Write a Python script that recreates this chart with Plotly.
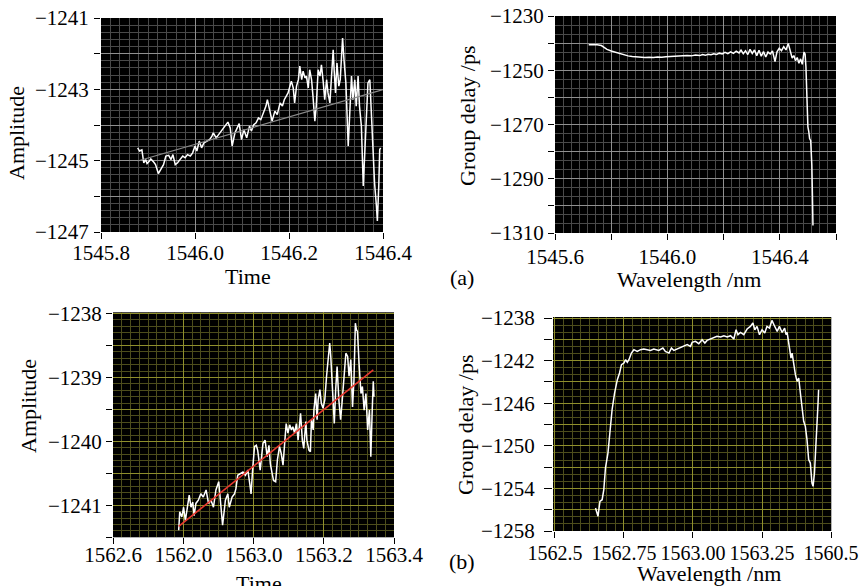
import plotly.graph_objects as go

# ---------------- data ----------------
# (a) left: amplitude vs time + linear fit
p1_x = [1545.878, 1545.882, 1545.887, 1545.891, 1545.895, 1545.898, 1545.903, 1545.906, 1545.912, 1545.916,
        1545.922, 1545.927, 1545.933, 1545.938, 1545.944, 1545.949, 1545.953, 1545.958, 1545.963, 1545.968,
        1545.974, 1545.979, 1545.984, 1545.990, 1545.995, 1546.000, 1546.004, 1546.009, 1546.014, 1546.019,
        1546.025, 1546.031, 1546.036, 1546.039, 1546.045, 1546.050, 1546.055, 1546.060, 1546.066, 1546.070,
        1546.075, 1546.079, 1546.085, 1546.090, 1546.094, 1546.099, 1546.104, 1546.110, 1546.116, 1546.120,
        1546.125, 1546.130, 1546.135, 1546.140, 1546.145, 1546.151, 1546.154, 1546.159, 1546.164, 1546.170,
        1546.175, 1546.181, 1546.186, 1546.190, 1546.195, 1546.198, 1546.202, 1546.205, 1546.209, 1546.212,
        1546.216, 1546.220, 1546.223, 1546.227, 1546.230, 1546.234, 1546.237, 1546.241, 1546.244, 1546.248,
        1546.251, 1546.255, 1546.258, 1546.262, 1546.266, 1546.269, 1546.273, 1546.276, 1546.280, 1546.283,
        1546.287, 1546.290, 1546.294, 1546.296, 1546.299, 1546.302, 1546.306, 1546.309, 1546.314, 1546.317,
        1546.321, 1546.326, 1546.329, 1546.333, 1546.336, 1546.340, 1546.343, 1546.347, 1546.350, 1546.354,
        1546.358, 1546.361, 1546.365, 1546.368, 1546.372, 1546.375, 1546.379, 1546.382, 1546.386, 1546.388,
        1546.391, 1546.393, 1546.395]
p1_y = [-1244.64, -1244.73, -1244.70, -1245.06, -1244.97, -1245.08, -1245.01, -1244.95, -1245.04, -1245.11,
        -1245.36, -1245.26, -1245.11, -1244.87, -1244.85, -1244.97, -1244.83, -1245.11, -1245.06, -1244.97,
        -1244.87, -1244.92, -1244.83, -1244.87, -1244.78, -1244.59, -1244.73, -1244.45, -1244.64, -1244.50,
        -1244.45, -1244.41, -1244.31, -1244.22, -1244.36, -1244.27, -1244.17, -1244.08, -1243.99, -1243.92,
        -1244.08, -1244.59, -1244.22, -1244.08, -1243.96, -1244.41, -1244.13, -1244.36, -1244.03, -1244.17,
        -1243.99, -1243.94, -1243.80, -1243.85, -1243.66, -1243.47, -1243.29, -1243.57, -1243.89, -1243.61,
        -1243.71, -1243.38, -1243.47, -1243.29, -1243.19, -1243.10, -1242.91, -1242.77, -1242.96, -1243.38,
        -1242.91, -1242.73, -1242.35, -1242.73, -1242.49, -1242.68, -1242.63, -1242.96, -1242.45, -1242.73,
        -1243.19, -1243.89, -1243.47, -1242.45, -1242.63, -1242.31, -1242.82, -1243.29, -1242.73, -1243.10,
        -1243.38, -1242.63, -1241.89, -1242.45, -1243.10, -1242.26, -1242.91, -1242.73, -1241.56, -1242.17,
        -1242.82, -1244.59, -1243.66, -1242.63, -1243.29, -1242.73, -1243.47, -1242.63, -1243.47, -1244.03,
        -1245.71, -1244.69, -1243.47, -1242.82, -1242.73, -1243.75, -1244.78, -1245.62, -1246.27, -1246.69,
        -1245.71, -1244.69, -1244.64]
p1_fit_x = [1545.878, 1546.400]
p1_fit_y = [-1245.01, -1243.01]

# (a) right: group delay vs wavelength
p2_x = [1545.720, 1545.735, 1545.750, 1545.765, 1545.775, 1545.785, 1545.800, 1545.815, 1545.830, 1545.845,
        1545.860, 1545.875, 1545.890, 1545.905, 1545.920, 1545.935, 1545.950, 1545.965, 1545.980, 1545.995,
        1546.010, 1546.025, 1546.040, 1546.055, 1546.070, 1546.085, 1546.100, 1546.115, 1546.125, 1546.135,
        1546.145, 1546.155, 1546.165, 1546.175, 1546.185, 1546.195, 1546.205, 1546.215, 1546.225, 1546.235,
        1546.245, 1546.255, 1546.262, 1546.270, 1546.278, 1546.286, 1546.294, 1546.302, 1546.310, 1546.318,
        1546.326, 1546.334, 1546.342, 1546.350, 1546.358, 1546.366, 1546.374, 1546.383, 1546.390, 1546.398,
        1546.406, 1546.414, 1546.422, 1546.430, 1546.437, 1546.444, 1546.450, 1546.456, 1546.462, 1546.468,
        1546.474, 1546.480, 1546.486, 1546.490, 1546.493, 1546.495, 1546.500, 1546.503, 1546.506, 1546.510,
        1546.512, 1546.514, 1546.516, 1546.518]
p2_y = [-1240.6, -1240.5, -1240.6, -1240.9, -1241.6, -1242.3, -1242.9, -1243.4, -1243.9, -1244.3,
        -1244.7, -1244.9, -1245.1, -1245.2, -1245.3, -1245.2, -1245.3, -1245.1, -1245.2, -1245.0,
        -1244.9, -1244.9, -1244.7, -1244.8, -1244.6, -1244.7, -1244.4, -1244.6, -1244.2, -1244.5,
        -1244.1, -1244.3, -1243.9, -1244.2, -1243.7, -1244.0, -1243.4, -1243.9, -1243.2, -1243.8,
        -1243.0, -1243.6, -1242.6, -1243.9, -1242.8, -1244.2, -1242.3, -1243.8, -1242.5, -1244.6,
        -1242.6, -1244.8, -1243.1, -1245.1, -1243.3, -1244.0, -1242.9, -1246.8, -1243.2, -1241.9,
        -1242.8, -1241.3, -1242.5, -1240.1, -1243.0, -1245.5, -1244.6, -1246.5, -1245.3, -1247.4,
        -1245.8, -1247.8, -1243.3, -1244.0, -1248.7, -1257.9, -1270.9, -1272.5, -1275.2, -1276.0,
        -1278.9, -1285.0, -1295.5, -1307.2]

# (b) left: amplitude vs time + linear fit
p3_x = [1562.787, 1562.790, 1562.796, 1562.801, 1562.806, 1562.810, 1562.817, 1562.822, 1562.827, 1562.831,
        1562.836, 1562.843, 1562.850, 1562.857, 1562.865, 1562.872, 1562.879, 1562.886, 1562.893, 1562.901,
        1562.908, 1562.912, 1562.920, 1562.927, 1562.931, 1562.939, 1562.946, 1562.950, 1562.955, 1562.962,
        1562.970, 1562.977, 1562.984, 1562.990, 1562.993, 1562.998, 1563.003, 1563.008, 1563.012, 1563.019,
        1563.027, 1563.033, 1563.039, 1563.044, 1563.048, 1563.053, 1563.057, 1563.063, 1563.068, 1563.074,
        1563.079, 1563.084, 1563.089, 1563.093, 1563.098, 1563.103, 1563.108, 1563.112, 1563.117, 1563.122,
        1563.127, 1563.131, 1563.134, 1563.139, 1563.143, 1563.149, 1563.152, 1563.158, 1563.162, 1563.165,
        1563.170, 1563.172, 1563.177, 1563.181, 1563.184, 1563.189, 1563.193, 1563.198, 1563.203, 1563.208,
        1563.212, 1563.217, 1563.220, 1563.225, 1563.230, 1563.234, 1563.238, 1563.243, 1563.248, 1563.252,
        1563.257, 1563.263, 1563.268, 1563.272, 1563.277, 1563.282, 1563.286, 1563.290, 1563.293, 1563.296,
        1563.301, 1563.306, 1563.310, 1563.315, 1563.320, 1563.325, 1563.330, 1563.334, 1563.338, 1563.341,
        1563.343]
p3_y = [-1241.39, -1241.10, -1241.18, -1241.03, -1241.24, -1241.08, -1240.84, -1241.03, -1240.95, -1241.16,
        -1240.97, -1240.92, -1240.82, -1240.87, -1240.76, -1240.97, -1240.92, -1241.03, -1240.76, -1240.63,
        -1241.03, -1241.31, -1240.92, -1240.82, -1241.03, -1240.87, -1240.82, -1240.74, -1240.53, -1240.50,
        -1240.48, -1240.53, -1240.45, -1240.69, -1240.82, -1240.40, -1240.08, -1240.06, -1240.14, -1240.45,
        -1240.03, -1239.98, -1240.24, -1240.06, -1240.35, -1240.50, -1240.61, -1240.63, -1240.29, -1240.08,
        -1240.19, -1240.37, -1239.93, -1239.72, -1239.87, -1239.74, -1239.82, -1239.77, -1239.87, -1239.72,
        -1239.98, -1239.72, -1239.56, -1239.98, -1240.11, -1239.69, -1239.98, -1240.14, -1240.16, -1239.66,
        -1239.82, -1239.51, -1239.25, -1239.66, -1239.35, -1239.19, -1239.40, -1239.48, -1239.35, -1238.98,
        -1238.72, -1238.46, -1238.67, -1239.25, -1239.72, -1239.19, -1238.83, -1239.35, -1239.66, -1239.40,
        -1238.98, -1238.62, -1238.67, -1238.98, -1238.72, -1239.46, -1239.04, -1238.15, -1238.25, -1238.28,
        -1238.83, -1239.25, -1239.14, -1239.51, -1239.25, -1239.82, -1239.51, -1240.24, -1239.51, -1239.06,
        -1239.30]
p3_fit_x = [1562.787, 1563.341]
p3_fit_y = [-1241.33, -1238.88]

# (b) right: group delay vs wavelength
p4_x = [1562.647, 1562.656, 1562.663, 1562.671, 1562.677, 1562.683, 1562.692, 1562.699, 1562.707, 1562.716,
        1562.726, 1562.734, 1562.741, 1562.750, 1562.756, 1562.762, 1562.768, 1562.777, 1562.786,
        1562.798, 1562.810, 1562.822, 1562.834, 1562.846, 1562.858, 1562.876, 1562.891, 1562.900, 1562.913,
        1562.922, 1562.931, 1562.943, 1562.955, 1562.967, 1562.979, 1562.991, 1562.997, 1563.009, 1563.021,
        1563.033, 1563.043, 1563.051, 1563.063, 1563.075, 1563.087, 1563.100, 1563.112, 1563.124, 1563.136,
        1563.148, 1563.156, 1563.163, 1563.172, 1563.184, 1563.196, 1563.208, 1563.217, 1563.224, 1563.232,
        1563.241, 1563.250, 1563.260, 1563.268, 1563.277, 1563.286, 1563.295, 1563.305, 1563.313, 1563.323,
        1563.332, 1563.337, 1563.341, 1563.347, 1563.350, 1563.355, 1563.359, 1563.365, 1563.371, 1563.377,
        1563.383, 1563.389, 1563.395, 1563.401, 1563.407, 1563.413, 1563.419, 1563.425, 1563.431, 1563.435,
        1563.440, 1563.446, 1563.451, 1563.453, 1563.455]
p4_y = [-1255.84, -1256.62, -1255.21, -1255.06, -1254.12, -1252.08, -1250.68, -1248.80, -1246.61, -1245.04,
        -1243.79, -1243.16, -1242.38, -1242.23, -1241.91, -1242.16, -1241.91, -1241.29, -1240.97,
        -1241.13, -1240.97, -1240.91, -1240.97, -1241.04, -1240.91, -1241.04, -1240.82, -1241.13, -1241.29,
        -1240.82, -1241.04, -1240.91, -1240.72, -1240.66, -1240.50, -1240.66, -1240.28, -1240.19, -1240.41,
        -1240.03, -1240.35, -1240.10, -1239.97, -1239.88, -1239.72, -1239.78, -1239.66, -1239.78, -1239.66,
        -1239.97, -1239.10, -1239.56, -1239.35, -1239.56, -1239.03, -1238.78, -1238.47, -1239.10, -1238.78,
        -1239.56, -1239.10, -1239.41, -1238.78, -1238.94, -1238.22, -1238.72, -1239.25, -1238.78, -1239.35,
        -1238.94, -1239.56, -1239.35, -1240.50, -1241.29, -1241.76, -1241.29, -1242.38, -1243.32, -1243.95,
        -1243.63, -1245.04, -1246.61, -1247.70, -1248.17, -1249.42, -1251.30, -1251.62, -1253.49, -1253.81,
        -1252.55, -1250.05, -1247.55, -1245.98, -1244.73]

# tick values / labels
p1_xticks = [1545.8, 1546.0, 1546.2, 1546.4]
p1_xlabels = ["1545.8", "1546.0", "1546.2", "1546.4"]
p1_yticks = [-1247, -1246, -1245, -1244, -1243, -1242, -1241]
p1_ylabels = ["\u22121247", "", "\u22121245", "", "\u22121243", "", "\u22121241"]

p2_xticks = [1545.6, 1545.8, 1546.0, 1546.2, 1546.4, 1546.6]
p2_xlabels = ["1545.6", "", "1546.0", "", "1546.4", ""]
p2_yticks = [-1310, -1300, -1290, -1280, -1270, -1260, -1250, -1240, -1230]
p2_ylabels = ["\u22121310", "", "\u22121290", "", "\u22121270", "", "\u22121250", "", "\u22121230"]

p3_xticks = [1562.6, 1562.8, 1563.0, 1563.2, 1563.4]
p3_xlabels = ["1562.6", "1562.0", "1563.0", "1563.2", "1563.4"]
p3_yticks = [-1241.5, -1241.0, -1240.5, -1240.0, -1239.5, -1239.0, -1238.5, -1238.0]
p3_ylabels = ["", "\u22121241", "", "\u22121240", "", "\u22121239", "", "\u22121238"]

p4_xticks = [1562.5, 1562.75, 1563.0, 1563.25, 1563.5]
p4_xlabels = ["1562.5", "1562.75", "1563.00", "1563.25", "1560.5"]
p4_yticks = [-1258, -1256, -1254, -1252, -1250, -1248, -1246, -1244, -1242, -1240, -1238]
p4_ylabels = ["\u22121258", "", "\u22121254", "", "\u22121250", "", "\u22121246", "", "\u22121242", "", "\u22121238"]

# ---------------- figure ----------------
W, H = 864, 586
FONT = "Liberation Serif"
GRAY_MAJ, GRAY_MIN = "#909090", "#4a4a4a"
OLIVE_MAJ, OLIVE_MIN = "#8f8f2c", "#4d4d1c"


def dom_x(a, b):
    return [a / W, b / W]


def dom_y(top, bottom):
    return [1 - bottom / H, 1 - top / H]


def axis(domain, rng, tv, tt, gmaj, gmin, mtick0, mdtick, anchor, standoff, fsize=21, tlen=6):
    return dict(
        domain=domain, range=rng, anchor=anchor, automargin=False,
        tickmode="array", tickvals=tv, ticktext=tt, tickangle=0,
        ticks="outside", ticklen=tlen, tickwidth=1, tickcolor="black",
        ticklabelstandoff=standoff,
        showgrid=True, gridcolor=gmaj, gridwidth=1,
        zeroline=False, showline=False,
        tickfont=dict(family=FONT, size=fsize, color="black"),
        minor=dict(tickmode="linear", tick0=mtick0, dtick=mdtick, showgrid=True,
                   gridcolor=gmin, gridwidth=1, ticks=""),
    )


fig = go.Figure()
white = dict(color="white", width=1.5)
fig.add_trace(go.Scatter(x=p1_x, y=p1_y, mode="lines", line=white, xaxis="x", yaxis="y"))
fig.add_trace(go.Scatter(x=p1_fit_x, y=p1_fit_y, mode="lines", line=dict(color="#8a8a8a", width=1.2),
                         xaxis="x", yaxis="y"))
fig.add_trace(go.Scatter(x=p2_x, y=p2_y, mode="lines", line=white, xaxis="x2", yaxis="y2"))
fig.add_trace(go.Scatter(x=p3_x, y=p3_y, mode="lines", line=white, xaxis="x3", yaxis="y3"))
fig.add_trace(go.Scatter(x=p3_fit_x, y=p3_fit_y, mode="lines", line=dict(color="#e8382f", width=1.6),
                         xaxis="x3", yaxis="y3"))
fig.add_trace(go.Scatter(x=p4_x, y=p4_y, mode="lines", line=white, xaxis="x4", yaxis="y4"))

layout = dict(
    width=W, height=H, margin=dict(l=0, r=0, t=0, b=0, autoexpand=False),
    paper_bgcolor="white", plot_bgcolor="black", showlegend=False,
    font=dict(family=FONT, size=21, color="black"),
    xaxis=axis(dom_x(101, 383), [1545.8, 1546.4], p1_xticks, p1_xlabels, GRAY_MAJ, GRAY_MIN, 1545.8, 0.02, "y", -4),
    yaxis=axis(dom_y(18, 232), [-1247, -1241], p1_yticks, p1_ylabels, GRAY_MAJ, GRAY_MIN, -1247, 0.2, "x", 1),
    xaxis2=axis(dom_x(555, 836), [1545.6, 1546.6], p2_xticks, p2_xlabels, GRAY_MAJ, GRAY_MIN, 1545.6, 0.2 / 7, "y2", -1),
    yaxis2=axis(dom_y(16, 233), [-1310, -1230], p2_yticks, p2_ylabels, GRAY_MAJ, GRAY_MIN, -1310, 10 / 3, "x2", 0),
    xaxis3=axis(dom_x(113, 394), [1562.6, 1563.4], p3_xticks, p3_xlabels, OLIVE_MAJ, OLIVE_MIN, 1562.6, 0.025, "y3", -8),
    yaxis3=axis(dom_y(312.3, 537.3), [-1241.5, -1237.98], p3_yticks, p3_ylabels, OLIVE_MAJ, OLIVE_MIN, -1241.5, 0.1, "x3", 0),
    xaxis4=axis(dom_x(553, 831.3), [1562.493, 1563.501], p4_xticks, p4_xlabels, OLIVE_MAJ, OLIVE_MIN, 1562.5, 0.03125, "y4", -2, fsize=20),
    yaxis4=axis(dom_y(317, 531), [-1258, -1237.9], p4_yticks, p4_ylabels, OLIVE_MAJ, OLIVE_MIN, -1258, 2 / 3, "x4", 5, tlen=8),
)
fig.update_layout(**layout)


def note(text, px, py, angle=0, yanchor="middle", size=22):
    fig.add_annotation(text=text, x=px / W, y=1 - py / H, xref="paper", yref="paper",
                       showarrow=False, textangle=angle, xanchor="center", yanchor=yanchor,
                       font=dict(family=FONT, size=size, color="black"))


note("Amplitude", 17, 133, angle=-90)
note("Time", 248, 276)
note("Group delay /ps", 467, 116, angle=-90)
note("Wavelength /nm", 689, 279)
note("(a)", 462, 277)
note("Amplitude", 28, 406, angle=-90)
note("Time", 259, 569, yanchor="top")
note("Group delay /ps", 465, 425, angle=-90)
note("Wavelength /nm", 709, 573)
note("(b)", 462, 561)

fig.write_html("out.html", config={"displayModeBar": False},
               post_script="document.body.style.margin='0';")
